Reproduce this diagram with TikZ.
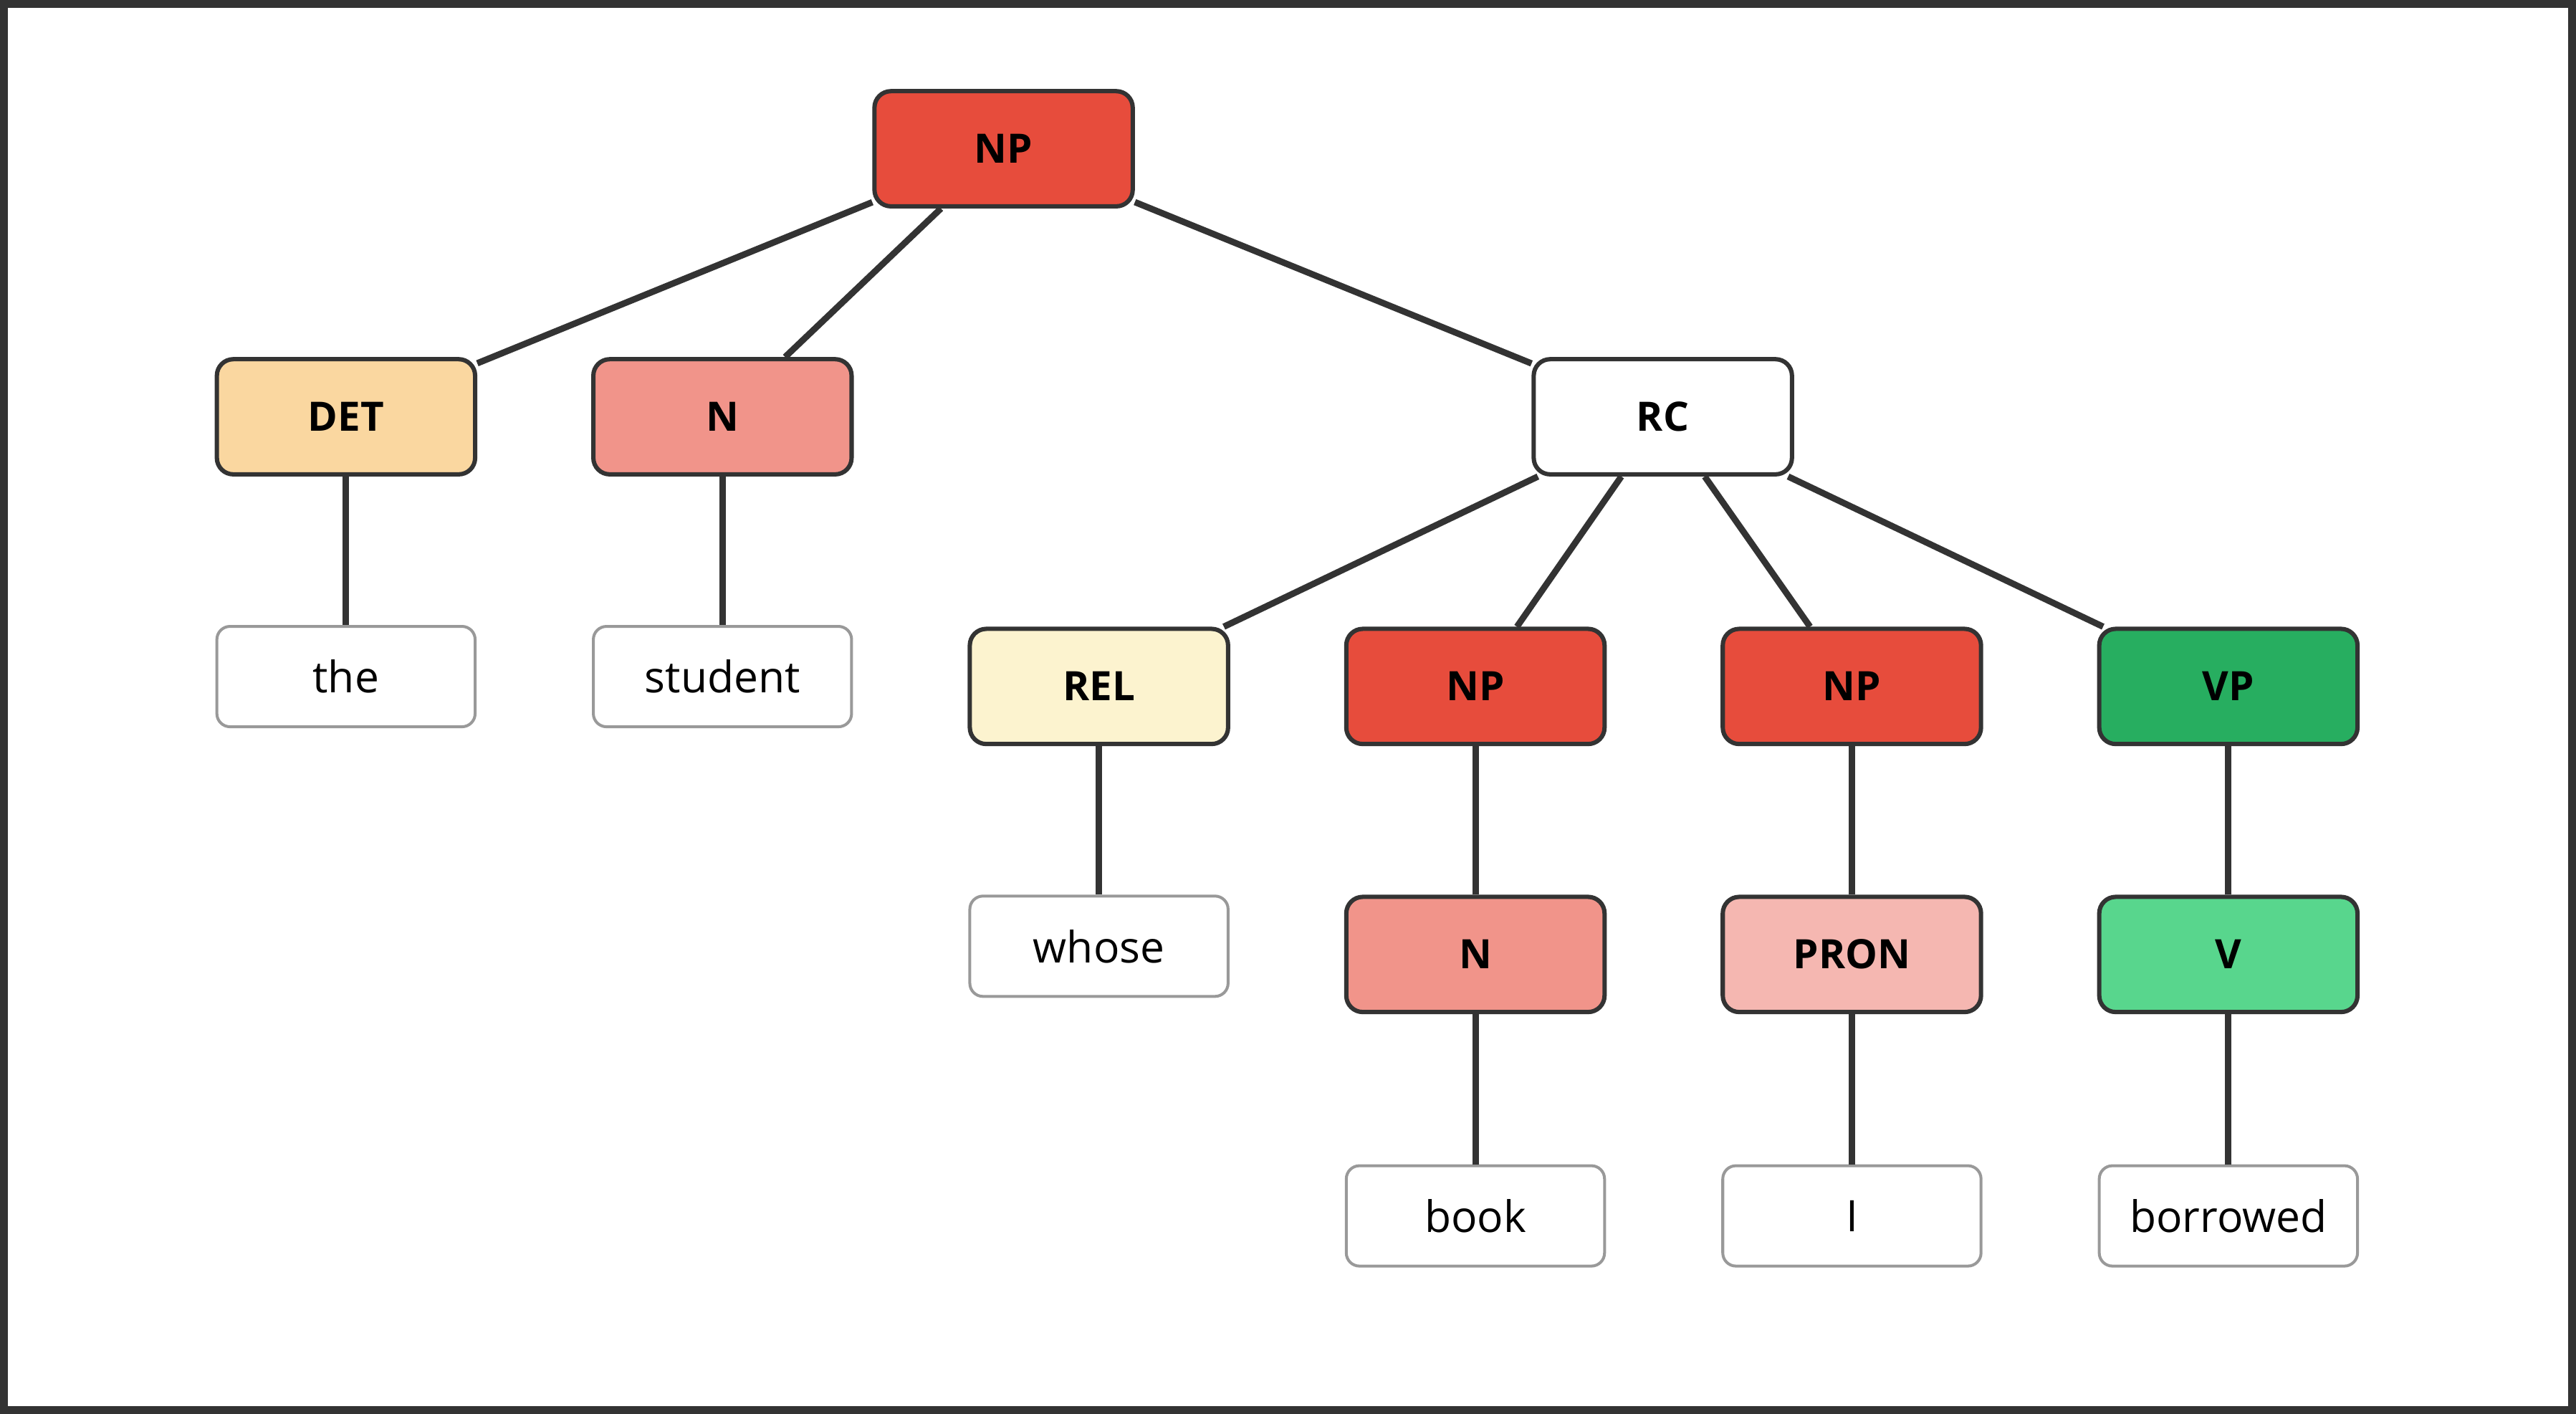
\documentclass[tikz,border=0pt]{standalone}
\usepackage{fontspec}
\setmainfont{Open Sans}
\definecolor{cNP}{HTML}{E74C3C}
\definecolor{cDET}{HTML}{FAD7A0}
\definecolor{cN}{HTML}{F1948A}
\definecolor{cREL}{HTML}{FCF3CF}
\definecolor{cVP}{HTML}{27AE60}
\definecolor{cV}{HTML}{58D68D}
\definecolor{cPRON}{HTML}{F5B7B1}
\definecolor{edge}{HTML}{333333}
\begin{document}
\begin{tikzpicture}[x=0.01cm,y=-0.01cm,
  cat/.style={draw=edge,line width=0.75pt,rounded corners=0.1cm,minimum width=1.57cm,minimum height=0.70cm,font=\fontsize{7}{8}\selectfont\bfseries,inner sep=0pt},
  leaf/.style={draw=black!40,line width=0.5pt,fill=white,rounded corners=0.08cm,minimum width=1.57cm,minimum height=0.61cm,font=\fontsize{7.5}{9}\selectfont,inner sep=0pt},
  br/.style={draw=edge,line width=1.1pt}]
\draw[edge,line width=1.4pt,fill=white] (3,3) rectangle (1565,858);
\node[cat,fill=cNP] (np) at (611,91) {NP};
\node[cat,fill=cDET] (det) at (211,254) {DET};
\node[cat,fill=cN] (n) at (440,254) {N};
\node[cat,fill=white] (rc) at (1012,254) {RC};
\node[leaf] (the) at (211,412) {the};
\node[leaf] (student) at (440,412) {student};
\node[cat,fill=cREL] (rel) at (669,418) {REL};
\node[cat,fill=cNP] (np2) at (898,418) {NP};
\node[cat,fill=cNP] (np3) at (1127,418) {NP};
\node[cat,fill=cVP] (vp) at (1356,418) {VP};
\node[leaf] (whose) at (669,576) {whose};
\node[cat,fill=cN] (n2) at (898,581) {N};
\node[cat,fill=cPRON] (pron) at (1127,581) {PRON};
\node[cat,fill=cV] (v) at (1356,581) {V};
\node[leaf] (book) at (898,740) {book};
\node[leaf] (i) at (1127,740) {I};
\node[leaf] (borrowed) at (1356,740) {borrowed};
\begin{scope}[on background layer/.style={}]
\end{scope}
\draw[br] (np) -- (det); \draw[br] (np) -- (n); \draw[br] (np) -- (rc);
\draw[br] (det) -- (the); \draw[br] (n) -- (student);
\draw[br] (rc) -- (rel); \draw[br] (rc) -- (np2); \draw[br] (rc) -- (np3); \draw[br] (rc) -- (vp);
\draw[br] (rel) -- (whose); \draw[br] (np2) -- (n2); \draw[br] (np3) -- (pron); \draw[br] (vp) -- (v);
\draw[br] (n2) -- (book); \draw[br] (pron) -- (i); \draw[br] (v) -- (borrowed);
\end{tikzpicture}
\end{document}
